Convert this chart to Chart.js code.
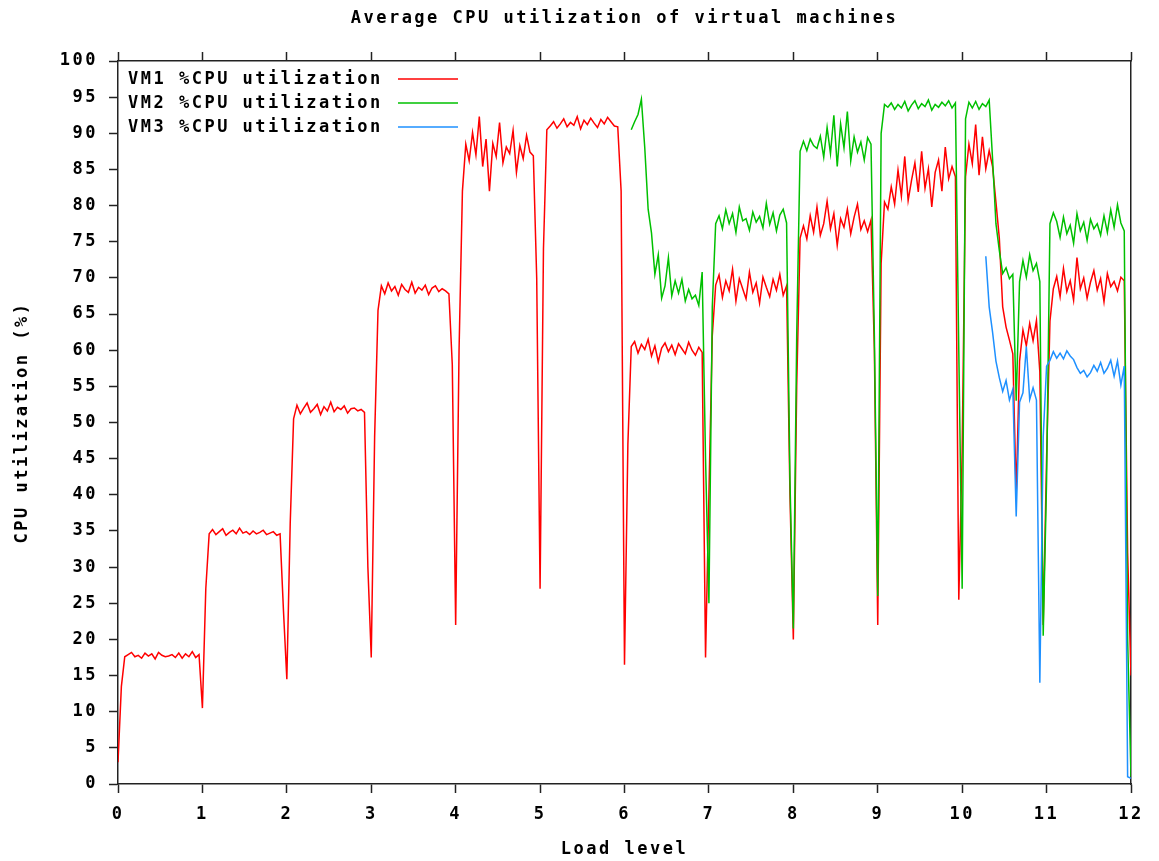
<!DOCTYPE html>
<html>
<head>
<meta charset="utf-8">
<title>Average CPU utilization of virtual machines</title>
<script src="https://cdn.jsdelivr.net/npm/chart.js@4/dist/chart.umd.min.js"></script>
<style>
  html, body { margin: 0; padding: 0; background: #fff; }
  #wrap { width: 1159px; height: 861px; }
</style>
</head>
<body>
<div id="wrap"><canvas id="cpu-chart" width="1159" height="861"></canvas></div>
<script>
/*////////////////////////////////
///            Data            ///
////////////////////////////////*/

// one sample every 0.04 load level
const loadStep = 0.04;
const loadLevels = [0, 1, 2, 3, 4, 5, 6, 7, 8, 9, 10, 11, 12];
const cpuTicks = [0, 5, 10, 15, 20, 25, 30, 35, 40, 45, 50, 55, 60, 65, 70, 75, 80, 85, 90, 95, 100];

// VM1 starts at load level 0, one row per level
const vm1Cpu = [
  3, 13.5, 17.6, 17.9, 18.2, 17.6, 17.8, 17.4, 18.1, 17.7, 18.0, 17.3, 18.2, 17.8, 17.6, 17.7, 17.9, 17.5, 18.1, 17.4, 18.0, 17.6, 18.3, 17.5, 17.9,
  10.5, 27, 34.6, 35.2, 34.5, 34.9, 35.3, 34.4, 34.8, 35.1, 34.6, 35.4, 34.7, 34.9, 34.5, 35.0, 34.6, 34.8, 35.1, 34.5, 34.7, 34.9, 34.4, 34.6, 24,
  14.5, 36, 50.5, 52.4, 51.2, 52.0, 52.7, 51.4, 51.9, 52.5, 51.1, 52.2, 51.6, 52.8, 51.5, 52.1, 51.8, 52.3, 51.3, 51.9, 52.0, 51.6, 51.8, 51.4, 30,
  17.5, 48, 65.5, 68.9, 67.8, 69.3, 68.2, 68.8, 67.6, 69.1, 68.4, 68.0, 69.4, 67.9, 68.7, 68.3, 69.0, 67.7, 68.6, 68.9, 68.1, 68.5, 68.2, 67.8, 58,
  22, 60, 82, 88.5, 86.2, 90.1, 87.0, 92.3, 85.4, 89.2, 82.0, 88.6, 86.8, 91.5, 85.9, 88.1, 87.2, 90.4, 84.6, 88.3, 86.5, 89.7, 87.4, 86.9, 70,
  27, 74, 90.5, 91.0, 91.6, 90.7, 91.3, 92.0, 90.9, 91.5, 91.1, 92.3, 90.6, 91.8, 91.2, 92.1, 91.4, 90.8, 91.9, 91.3, 92.2, 91.6, 91.0, 90.9, 82,
  16.5, 47, 60.5, 61.2, 59.6, 60.8, 60.1, 61.5, 59.2, 60.6, 58.4, 60.3, 61.0, 59.8, 60.7, 59.4, 60.9, 60.2, 59.5, 61.1, 60.0, 59.3, 60.4, 59.7, 17.5,
  40, 62, 69, 70.4, 67.3, 69.6, 68.2, 71.2, 66.8, 69.9, 68.5, 67.1, 70.8, 68.0, 69.3, 66.5, 70.1, 68.7, 67.4, 69.8, 68.3, 70.5, 67.6, 68.9, 40,
  20, 55, 75.5, 77.2, 75.4, 78.6, 76.3, 79.8, 75.9, 77.5, 80.6, 76.8, 78.9, 74.5, 78.2, 77.0, 79.5, 76.1, 78.4, 80.2, 76.7, 77.9, 76.4, 78.0, 60,
  22, 72, 80.5, 79.5, 82.6, 80.2, 84.9, 81.3, 86.8, 80.7, 83.5, 85.9, 81.9, 87.5, 82.4, 85.1, 79.8, 84.6, 86.3, 82.0, 88.1, 83.7, 85.4, 84.0, 25.5,
  46, 84, 88.5, 85.8, 91.2, 84.2, 89.5, 85.1, 87.6, 85.4, 80.5, 75.5, 66, 63.2, 61.4, 59.5, 40, 58.5, 62.8, 60.6, 63.7, 61.3, 64.1, 57, 22,
  45, 64, 68.5, 70.2, 67.4, 71.3, 68.1, 69.6, 66.9, 72.8, 68.5, 70.0, 67.2, 69.4, 71.0, 68.3, 69.9, 66.7, 70.6, 68.8, 69.5, 68.2, 70.1, 69.6, 32, 15
];

// VM2 starts at load level 6.08
const vm2Start = 6.08;
const vm2Cpu = [
  90.5, 91.6, 92.6, 94.7, 88, 79.5, 76.2, 70.5, 73.2, 67.2, 68.9, 72.8, 67.5, 69.6, 67.9, 69.8, 66.8, 68.4, 67.1, 67.6, 66.2, 70.8, 45,
  25, 66, 77.5, 78.6, 76.8, 79.4, 77.5, 78.9, 76.3, 79.8, 77.9, 78.2, 76.6, 79.1, 77.7, 78.5, 76.9, 80.3, 77.4, 79.0, 76.5, 78.7, 79.5, 77.6, 42,
  21.5, 62, 87.5, 88.9, 87.6, 89.2, 88.3, 87.9, 89.6, 86.7, 90.8, 87.2, 92.5, 85.4, 91.3, 88.0, 93.0, 86.2, 89.5, 87.4, 88.8, 86.3, 89.4, 88.5, 62,
  26, 90, 94, 93.6, 94.2, 93.3, 94.0, 93.5, 94.4, 93.1, 93.9, 94.5, 93.4, 94.1, 93.7, 94.6, 93.2, 94.0, 93.6, 94.3, 93.8, 94.5, 93.5, 94.2, 60,
  27, 92, 94.3, 93.5, 94.4, 93.3, 94.1, 93.7, 94.6, 86.5, 77.5, 73.8, 70.6, 71.4, 69.9, 70.5, 53, 69.5, 72.4, 70.1, 73.2, 71.0, 72.0, 69.5, 20.5,
  42, 77.5, 79, 77.8, 75.6, 78.4, 76.1, 77.3, 74.8, 78.9, 76.5, 77.7, 75.2, 78.1, 76.8, 77.5, 75.9, 78.6, 76.3, 79.4, 77.0, 80.1, 77.6, 76.5, 20, 1
];

// VM3 starts at load level 10.28
const vm3Start = 10.28;
const vm3Cpu = [
  73, 66, 62.5, 58.5, 56.2, 54.3, 55.8, 53.1, 54.6, 37, 52.8, 54.1, 60.5, 53.2, 54.8, 53.1, 14, 48,
  57.8, 58.6, 59.8, 58.9, 59.6, 58.8, 59.9, 59.2, 58.7, 57.6, 56.8, 57.2, 56.3, 56.9, 57.9, 57.1, 58.3, 56.8, 57.5, 58.6, 56.4, 58.5, 55.2, 57.8, 1, 0.8
];

/*////////////////////////////////
///           Chart            ///
////////////////////////////////*/

function toPoints(values, start) {
  return values.map((v, i) => ({ x: +(start + i * loadStep).toFixed(2), y: v }));
}

const monoFont = { family: "'DejaVu Sans Mono', 'Liberation Mono', monospace", size: 17, weight: 'bold' };
const axisColor = '#222';

function line(label, values, start, color, order) {
  return {
    label: label,
    data: toPoints(values, start),
    borderColor: color,
    backgroundColor: color,
    borderWidth: 1.5,
    pointRadius: 0,
    tension: 0,
    fill: false,
    order: order
  };
}

// gnuplot puts the sample line after the text, inside the plot
const keyPlugin = {
  id: 'key',
  afterDatasetsDraw(chart) {
    const ctx = chart.ctx;
    const area = chart.chartArea;
    ctx.save();
    ctx.font = 'bold 17px ' + monoFont.family;
    ctx.textBaseline = 'middle';
    ctx.fillStyle = '#000';
    chart.data.datasets.forEach((ds, i) => {
      let y = 80 + i * 24;
      ctx.fillText(ds.label, area.left + 10, y);
      ctx.strokeStyle = ds.borderColor;
      ctx.lineWidth = 1.6;
      ctx.beginPath();
      ctx.moveTo(area.left + 280, y - 1);
      ctx.lineTo(area.left + 340, y - 1);
      ctx.stroke();
    });
    ctx.restore();
  }
};

// wide bitmap-like lettering
const spacingPlugin = {
  id: 'spacing',
  beforeDraw(chart) {
    chart.ctx.letterSpacing = '2.5px';
  }
};

let cpu = document.getElementById('cpu-chart').getContext('2d');

let cpuChart = new Chart(cpu, {
  type: 'line',
  data: {
    datasets: [
      line('VM1 %CPU utilization', vm1Cpu, 0, '#ff0000', 2),
      line('VM2 %CPU utilization', vm2Cpu, vm2Start, '#00c000', 1),
      line('VM3 %CPU utilization', vm3Cpu, vm3Start, '#1e90ff', 0)
    ]
  },
  plugins: [spacingPlugin, keyPlugin],
  options: {
    responsive: false,
    animation: false,
    devicePixelRatio: 1,
    layout: {
      padding: { left: 0, right: 28, top: 0, bottom: 0 }
    },
    scales: {
      x: {
        type: 'linear',
        position: 'bottom',
        min: 0,
        max: 12,
        afterBuildTicks: (scale) => { scale.ticks = loadLevels.map(v => ({ value: v })); },
        afterFit: (scale) => { scale.height = 77; },
        grid: { drawOnChartArea: false, color: axisColor, tickLength: 9, tickWidth: 1.5 },
        border: { display: true, color: axisColor, width: 1.5 },
        ticks: { font: monoFont, color: '#000', padding: 11, maxRotation: 0 },
        title: { display: true, text: 'Load level', font: monoFont, color: '#000', padding: { top: 0, bottom: 1 } }
      },
      xTop: {
        type: 'linear',
        position: 'top',
        min: 0,
        max: 12,
        afterBuildTicks: (scale) => { scale.ticks = loadLevels.map(v => ({ value: v })); },
        afterFit: (scale) => { scale.height = 0; },
        grid: { drawOnChartArea: false, color: axisColor, tickLength: 9, tickWidth: 1.5 },
        border: { display: true, color: axisColor, width: 1.5 },
        ticks: { display: false }
      },
      y: {
        type: 'linear',
        position: 'left',
        min: 0,
        max: 100,
        afterBuildTicks: (scale) => { scale.ticks = cpuTicks.map(v => ({ value: v })); },
        afterFit: (scale) => { scale.width = 118; },
        grid: { drawOnChartArea: false, color: axisColor, tickLength: 9, tickWidth: 1.5 },
        border: { display: true, color: axisColor, width: 1.5 },
        ticks: { font: monoFont, color: '#000', padding: 11 },
        title: { display: true, text: 'CPU utilization (%)', font: monoFont, color: '#000', padding: { top: 12, bottom: 0 } }
      },
      yRight: {
        type: 'linear',
        position: 'right',
        min: 0,
        max: 100,
        afterFit: (scale) => { scale.width = 0; },
        grid: { display: false },
        border: { display: true, color: axisColor, width: 1.5 },
        ticks: { display: false }
      }
    },
    plugins: {
      legend: { display: false },
      tooltip: { enabled: false },
      title: {
        display: true,
        fullSize: false,
        text: 'Average CPU utilization of virtual machines',
        font: monoFont,
        color: '#000',
        padding: { top: 8, bottom: 32.6 }
      }
    }
  }
});
</script>
</body>
</html>
